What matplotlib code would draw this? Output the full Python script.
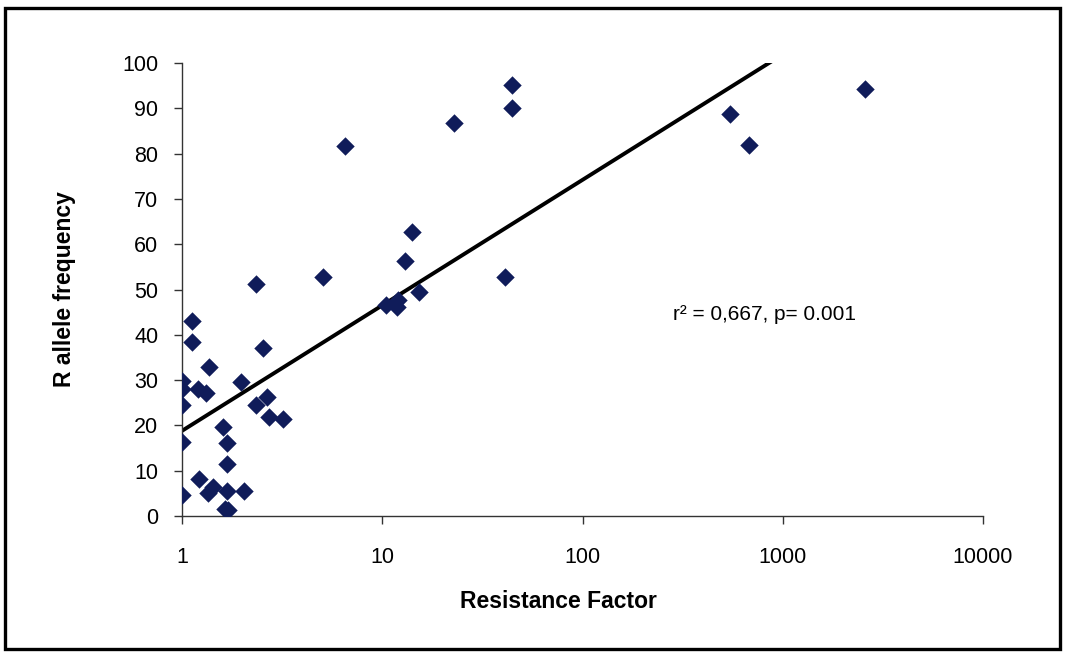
import matplotlib
matplotlib.use("Agg")
import matplotlib.pyplot as plt
import numpy as np

# ---- data ----
resistance_factor = [
    2.34, 1.12, 1.12, 1.36, 1.0, 1.0, 1.20, 1.32, 1.97, 2.54,
    1.0, 2.34, 2.66, 2.72, 3.2, 1.60, 1.0, 1.68, 1.68, 1.22,
    1.43, 1.35, 1.68, 2.04, 1.0, 1.64, 1.70,
    44.7, 44.7, 22.9, 6.5, 14.1, 13.0, 5.07, 41.2, 15.3, 10.4, 12.0, 11.9,
    543, 676, 2570,
]
r_allele_freq = [
    51.2, 43.0, 38.4, 32.9, 29.8, 28.0, 28.0, 27.2, 29.6, 37.1,
    24.5, 24.5, 26.3, 21.9, 21.4, 19.6, 16.3, 16.1, 11.5, 8.2,
    6.4, 5.1, 5.5, 5.5, 4.6, 1.5, 1.3,
    95.1, 90.0, 86.7, 81.7, 62.7, 56.3, 52.8, 52.8, 49.4, 46.6, 47.7, 46.1,
    88.7, 81.9, 94.3,
]
trend_intercept = 18.8
trend_slope = 27.7
x_ticks = [1, 10, 100, 1000, 10000]
x_tick_labels = ["1", "10", "100", "1000", "10000"]
y_ticks = [0, 10, 20, 30, 40, 50, 60, 70, 80, 90, 100]
annotation = "r² = 0,667, p= 0.001"

plt.rcParams['font.family'] = ['Liberation Sans', 'DejaVu Sans']

fig = plt.figure(figsize=(10.65, 6.52), dpi=100)
fig.patch.set_facecolor('white')

# outer border of the chart area
border = plt.Rectangle((0.005, 0.004), 0.99, 0.983, transform=fig.transFigure,
                       fill=False, edgecolor='black', linewidth=2.4)
fig.patches.append(border)

ax_left, ax_right, ax_top, ax_bottom = 182, 983, 63, 516
ax = fig.add_axes([ax_left/1065, 1 - ax_bottom/652, (ax_right-ax_left)/1065,
                   (ax_bottom-ax_top)/652])
ax.set_xscale('log')
ax.set_xlim(1, 10000)
ax.set_ylim(0, 100)

ax.scatter(resistance_factor, r_allele_freq, marker='D', s=88,
           color='#101c5a', zorder=3, linewidths=0)

xl = np.logspace(0, 4, 200)
yl = trend_intercept + trend_slope * np.log10(xl)
ax.plot(xl, yl, color='black', linewidth=2.8, zorder=2)

for s in ['top', 'right']:
    ax.spines[s].set_visible(False)
for s in ['left', 'bottom']:
    ax.spines[s].set_color('#333333')
    ax.spines[s].set_linewidth(1.0)

ax.set_xticks(x_ticks)
ax.set_xticklabels(x_tick_labels)
ax.xaxis.set_minor_locator(matplotlib.ticker.NullLocator())
ax.set_yticks(y_ticks)
ax.tick_params(axis='both', labelsize=15.5, direction='out', length=6, width=1.0,
               color='#333333')
ax.tick_params(axis='x', pad=16)
ax.tick_params(axis='y', pad=11)

ax.set_xlabel("Resistance Factor", fontsize=16.5, fontweight='bold')
ax.xaxis.set_label_coords((558 - ax_left) / (ax_right - ax_left), -0.163)
ax.set_ylabel("R allele frequency", fontsize=16.5, fontweight='bold')
ax.yaxis.set_label_coords((76 - ax_left) / (ax_right - ax_left), 0.5)

ax.text(282, 44.5, annotation, fontsize=15, ha='left', va='center')
ax.patch.set_alpha(0)

fig.savefig("out.png", dpi=100, facecolor='white')
